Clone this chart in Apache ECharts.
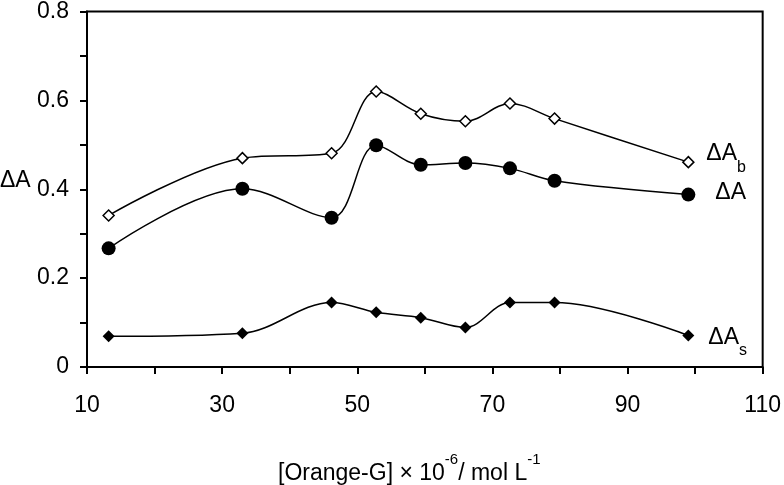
<!DOCTYPE html>
<html>
<head>
<meta charset="utf-8">
<script src="https://cdn.jsdelivr.net/npm/echarts@6/dist/echarts.min.js"></script>
<style>html,body{margin:0;padding:0;background:#fff}#c{width:784px;height:485px}</style>
</head>
<body>
<div id="c"></div>
<script>
const concentrations = [13.2, 33, 46.2, 52.8, 59.4, 66, 72.6, 79.2, 99];
const deltaAb = [0.341, 0.470, 0.481, 0.620, 0.570, 0.553, 0.593, 0.559, 0.461];
const deltaA  = [0.267, 0.401, 0.336, 0.499, 0.455, 0.459, 0.447, 0.419, 0.388];
const deltaAs = [0.069, 0.076, 0.145, 0.123, 0.111, 0.089, 0.145, 0.145, 0.071];
const xTickLabels = [10, 30, 50, 70, 90, 110];
const yTickLabels = [0, 0.2, 0.4, 0.6, 0.8];

const FONT = "'Liberation Sans', Arial, sans-serif";
const pairs = arr => concentrations.map((x, i) => [x, arr[i]]);
const diamond = 'path://M0,-1L1,0L0,1L-1,0Z';

function mkSeries(name, data, symbol, size, fill, labelRich, labelOffset) {
  return {
    name, type: 'line', data: pairs(data), smooth: 0.35,
    symbol, symbolSize: size, showSymbol: true,
    lineStyle: { color: '#000', width: 1.5 },
    itemStyle: { color: fill, borderColor: '#000', borderWidth: fill === '#fff' ? 1.5 : 0 },
    endLabel: {
      show: true, formatter: labelRich, offset: labelOffset,
      fontFamily: FONT, fontSize: 23, color: '#000',
      rich: { sub: { fontFamily: FONT, fontSize: 16, verticalAlign: 'bottom', padding: [0,0,-10,0], color: '#000' } }
    },
    z: 3
  };
}

const chart = echarts.init(document.getElementById('c'));
chart.setOption({
  animation: false,
  backgroundColor: '#fff',
  grid: { left: 87, right: 18, top: 8, bottom: 118, show: true, borderColor: '#000', borderWidth: 2 },
  xAxis: {
    type: 'value', min: 10, max: 110, interval: 10,
    axisLine: { show: true, lineStyle: { color: '#000', width: 2 } },
    axisTick: { show: true, inside: false, length: 7, lineStyle: { color: '#000', width: 2 } },
    splitLine: { show: false },
    axisLabel: {
      margin: 27, fontFamily: FONT, fontSize: 23, color: '#000',
      formatter: v => xTickLabels.includes(Math.round(v)) ? String(Math.round(v)) : ''
    }
  },
  yAxis: {
    type: 'value', min: 0, max: 0.8, interval: 0.1,
    axisLine: { show: true, lineStyle: { color: '#000', width: 2 } },
    axisTick: { show: true, inside: false, length: 7, lineStyle: { color: '#000', width: 2 } },
    splitLine: { show: false },
    axisLabel: {
      margin: 18, fontFamily: FONT, fontSize: 23, color: '#000',
      formatter: v => {
        const r = Math.round(v * 10) / 10;
        return yTickLabels.some(t => Math.abs(t - r) < 1e-9) ? String(r) : '';
      }
    }
  },
  graphic: [
    { type: 'text', left: 0, top: 169, style: { text: 'ΔA', fontFamily: FONT, fontSize: 23, fill: '#000' } },
    { type: 'text', left: 278, top: 452,
      style: {
        text: '[Orange-G] × 10{sup|-6}/ mol L{sup|-1}',
        fontFamily: FONT, fontSize: 23, fill: '#000',
        rich: { sup: { fontFamily: FONT, fontSize: 15, verticalAlign: 'top', padding: [-10,0,0,0], fill: '#000' } }
      }
    }
  ],
  series: [
    mkSeries('ΔAb', deltaAb, diamond, 11, '#fff', 'ΔA{sub|b}', [10, -8]),
    mkSeries('ΔA', deltaA, 'circle', 14, '#000', 'ΔA', [19, -2]),
    mkSeries('ΔAs', deltaAs, diamond, 12, '#000', 'ΔA{sub|s}', [12, 2])
  ]
});
</script>
</body>
</html>
